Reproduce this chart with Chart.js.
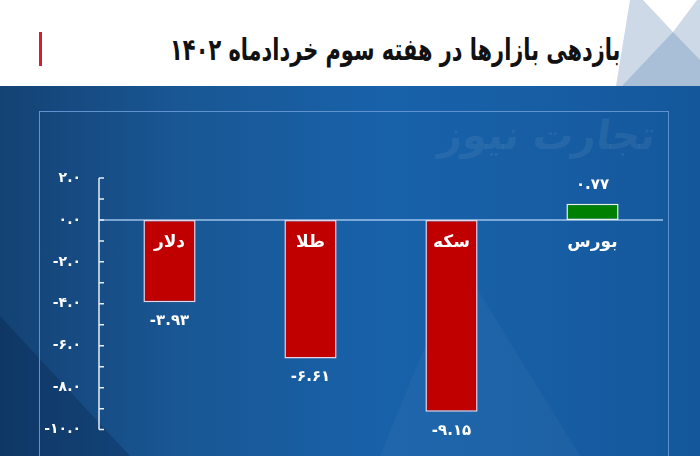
<!DOCTYPE html>
<html>
<head>
<meta charset="utf-8">
<script src="https://cdn.jsdelivr.net/npm/chart.js@4"></script>
<style>
  body { margin: 0; background: #fff; }
  #wrap { position: relative; width: 700px; height: 456px; overflow: hidden; background: #fff; font-family: 'DejaVu Sans', sans-serif; }
  #redbar { position: absolute; left: 39px; top: 32px; width: 3px; height: 34px; background: #d3202c; }
  #title { position: absolute; right: 80px; top: 32px; font-size: 30px; font-weight: bold; color: #111; direction: rtl; white-space: nowrap; transform-origin: right center; }
  #panel { position: absolute; left: 0; top: 86px; width: 700px; height: 370px;
           background: linear-gradient(90deg, #144274 0%, #195693 25%, #1862aa 55%, #175da3 80%, #14579b 100%); }
  #frame { position: absolute; left: 39px; top: 25px; width: 628px; height: 400px; border: 1.5px solid #5f93cf; }
  #mark { position: absolute; right: 45px; top: 26px; font-size: 40px; font-weight: bold; color: rgba(255,255,255,0.08); direction: rtl; white-space: nowrap; transform: skewX(-8deg); }
  canvas { position: absolute; left: 0; top: 0; }
</style>
</head>
<body>
<div id="wrap">
  <svg width="700" height="86" style="position:absolute;left:0;top:0">
    <polygon points="616,86 630,0 643,0 673,32 697,0 700,0 700,86" fill="#cdd9e7"/>
    <polygon points="622,86 673,32 700,60 700,86" fill="#a9bfd7"/>
  </svg>
  <div id="redbar"></div>
  <div id="title">بازدهی بازارها در هفته سوم خردادماه ۱۴۰۲</div>
  <div id="panel">
    <svg width="700" height="370" style="position:absolute;left:0;top:0">
      <polygon points="0,230 0,370 130,370" fill="rgba(0,20,50,0.22)"/>
      <polygon points="380,370 460,175 580,370" fill="rgba(255,255,255,0.03)"/>
    </svg>
    <div id="frame"></div>
    <div id="mark">تجارت نیوز</div>
  </div>
  <canvas id="chart" width="700" height="456"></canvas>
</div>
<script>
var categories = ['دلار', 'طلا', 'سکه', 'بورس'];
var returns = [-3.93, -6.61, -9.15, 0.77];
var valueLabels = ['-۳.۹۳', '-۶.۶۱', '-۹.۱۵', '۰.۷۷'];
var yMin = -10;
var yMax = 2;

// squeeze the title to the width it has in the picture
var title = document.getElementById('title');
title.style.transform = 'scaleX(' + (450 / title.offsetWidth) + ')';

var faDigits = '۰۱۲۳۴۵۶۷۸۹';
function toFa(s) {
    return String(s).replace(/[0-9]/g, function(d){ return faDigits[+d]; });
}

var barColors = returns.map(function(v){ return v < 0 ? '#c00000' : '#008000'; });
var borderColors = returns.map(function(v){ return v < 0 ? '#e6d4e4' : '#e4f2e4'; });

// axis line, inner ticks and zero line
var axisPlugin = {
    id: 'axisPlugin',
    beforeDatasetsDraw: function(chart){
        var ctx = chart.ctx, y = chart.scales.y, area = chart.chartArea;
        var zy = y.getPixelForValue(0);
        ctx.save();
        ctx.strokeStyle = '#9cc2ea';
        ctx.lineWidth = 1.5;
        ctx.beginPath();
        ctx.moveTo(area.left, zy);
        ctx.lineTo(area.right, zy);
        ctx.stroke();

        ctx.strokeStyle = '#e6edf5';
        ctx.beginPath();
        ctx.moveTo(area.left, y.getPixelForValue(yMax));
        ctx.lineTo(area.left, y.getPixelForValue(yMin));
        for (var v = yMin; v <= yMax; v++) {
            var py = y.getPixelForValue(v);
            ctx.moveTo(area.left, py);
            ctx.lineTo(area.left + 5, py);
        }
        ctx.stroke();
        ctx.restore();
    }
};

// category names and values next to the bars
var labelPlugin = {
    id: 'labelPlugin',
    afterDatasetsDraw: function(chart){
        var ctx = chart.ctx, y = chart.scales.y;
        var meta = chart.getDatasetMeta(0);
        var zy = y.getPixelForValue(0);
        ctx.save();
        ctx.fillStyle = '#ffffff';
        ctx.textAlign = 'center';
        ctx.textBaseline = 'middle';
        meta.data.forEach(function(bar, i){
            ctx.font = 'bold 17px "DejaVu Sans"';
            ctx.fillText(categories[i], bar.x, zy + 23);
            ctx.font = 'bold 15px "DejaVu Sans"';
            var vy = returns[i] < 0 ? bar.y + 19 : bar.y - 19;
            ctx.fillText(valueLabels[i], bar.x, vy);
        });
        ctx.restore();
    }
};

var ctx = document.getElementById('chart').getContext('2d');
var chart = new Chart(ctx, {
    type: 'bar',
    data: {
        labels: categories,
        datasets: [{
            data: returns,
            backgroundColor: barColors,
            borderColor: borderColors,
            borderWidth: 1.5,
            borderSkipped: false,
            categoryPercentage: 1,
            barPercentage: 0.37
        }]
    },
    options: {
        responsive: false,
        animation: false,
        devicePixelRatio: 1,
        layout: { padding: { top: 178, bottom: 18, left: 0, right: 37 } },
        plugins: { legend: { display: false }, tooltip: { enabled: false } },
        scales: {
            x: { display: false },
            y: {
                min: yMin,
                max: yMax,
                grid: { display: false, drawTicks: false },
                border: { display: false },
                ticks: {
                    stepSize: 1,
                    padding: 18,
                    color: '#ffffff',
                    font: { family: 'DejaVu Sans', size: 14, weight: 'bold' },
                    callback: function(v){ return v % 2 === 0 ? toFa(Number(v).toFixed(1)) : ''; }
                },
                afterFit: function(scale){ scale.width = 99; }
            }
        }
    },
    plugins: [axisPlugin, labelPlugin]
});
</script>
</body>
</html>
